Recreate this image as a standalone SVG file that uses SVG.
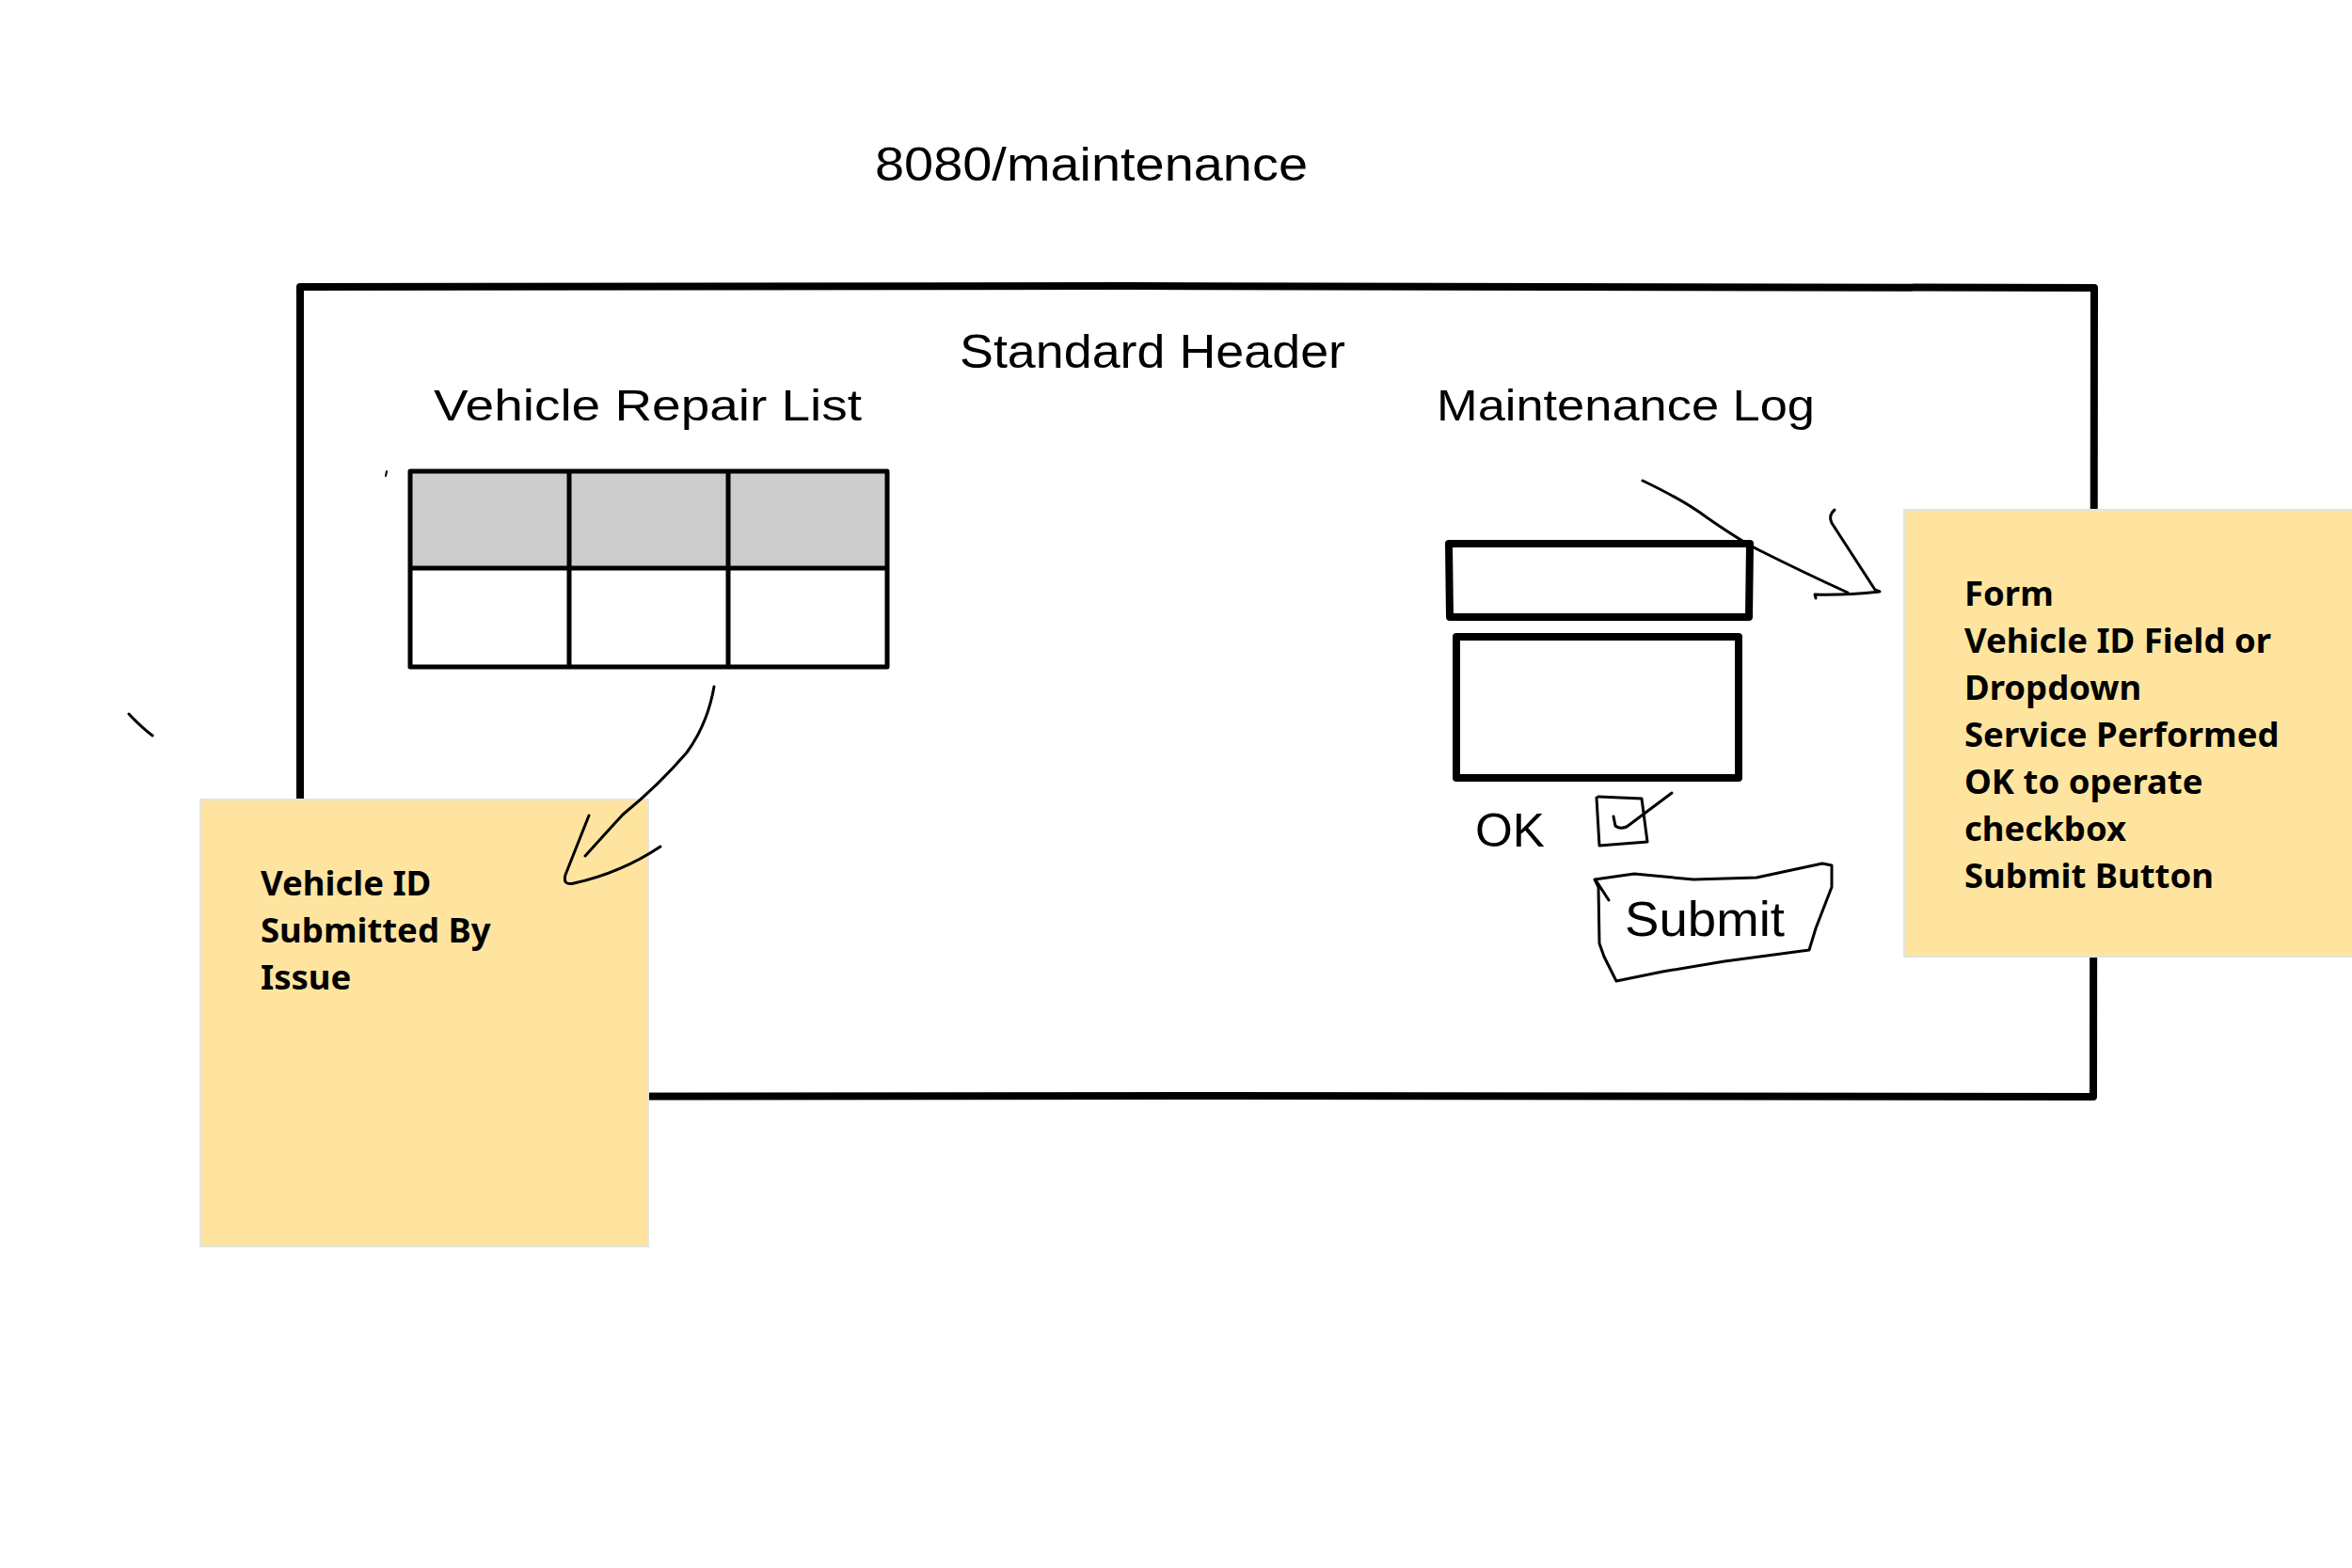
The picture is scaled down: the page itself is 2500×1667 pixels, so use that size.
<svg xmlns="http://www.w3.org/2000/svg" width="2500" height="1667" viewBox="0 0 2500 1667">
<style>
.hand{font-family:"Liberation Sans","DejaVu Sans",sans-serif;fill:#000}
.note{font-family:"Noto Sans","Open Sans",sans-serif;font-weight:700;font-size:36.5px;fill:#000}
.ink{fill:none;stroke:#000;stroke-linecap:round;stroke-linejoin:round}
.sticky{fill:#fee49f;stroke:#e3e3e3;stroke-width:2}
</style>
<rect width="2500" height="1667" fill="#fff"/>
<g id="title"><text class="hand" x="930" y="192" font-size="50" textLength="460" lengthAdjust="spacingAndGlyphs">8080/maintenance</text></g>
<g id="frame">
<path class="ink" stroke-width="8" d="M319,305 L1200,304 L2226,306 L2225,1166 L1300,1165 L319,1166 Z"/>
</g>
<g id="header"><text class="hand" x="1020" y="391" font-size="50" textLength="410" lengthAdjust="spacingAndGlyphs">Standard Header</text></g>
<g id="repair-title"><text class="hand" x="461" y="447" font-size="46" textLength="455" lengthAdjust="spacingAndGlyphs">Vehicle Repair List</text></g>
<g id="log-title"><text class="hand" x="1527" y="447" font-size="46" textLength="402" lengthAdjust="spacingAndGlyphs">Maintenance Log</text></g>
<g id="table">
<rect x="436" y="501" width="507" height="103" fill="#cccccc"/>
<path class="ink" stroke-width="5" d="M436,501 L943,501 L943,709 L436,709 Z M436,604 L943,604 M605,501 L605,709 M774,501 L774,709"/>
</g>
<g id="tick"><path class="ink" stroke-width="2" d="M411,501 L410,506"/></g>
<g id="field1"><path class="ink" stroke-width="8" d="M1540,578 L1860,578 L1859,656 L1541,656 Z"/></g>
<g id="field2"><path class="ink" stroke-width="8" d="M1548,677 L1848,677 L1848,827 L1548,827 Z"/></g>
<g id="ok"><text class="hand" x="1568" y="900" font-size="50" font-weight="200" textLength="74" lengthAdjust="spacingAndGlyphs">OK</text></g>
<g id="checkbox">
<path class="ink" stroke-width="3" d="M1699,847 L1745,849 L1751,895 L1700,899 L1697,848 M1715,868 L1717,878 Q1722,882 1729,879 L1777,843"/>
</g>
<g id="submit">
<path class="ink" stroke-width="3" d="M1695,935 L1737,929 L1800,935 L1867,933 L1937,918 L1947,920 L1947,943 L1930,987 L1923,1010 L1833,1022 L1767,1033 L1718,1043 L1705,1017 L1700,1003 L1699,943 Z M1697,937 L1710,957"/>
<text class="hand" x="1727" y="995" font-size="52" textLength="170" lengthAdjust="spacingAndGlyphs">Submit</text>
</g>
<g id="mark"><path class="ink" stroke-width="3" d="M137,759 Q150,773 162,782"/></g>
<g id="note-left">
<rect class="sticky" x="213" y="850" width="476" height="475"/>
<text class="note" x="277" y="952">Vehicle ID</text>
<text class="note" x="277" y="1002">Submitted By</text>
<text class="note" x="277" y="1052">Issue</text>
</g>
<g id="note-right">
<rect class="sticky" x="2024" y="542" width="478" height="475"/>
<text class="note" x="2088" y="644">Form</text>
<text class="note" x="2088" y="694">Vehicle ID Field or</text>
<text class="note" x="2088" y="744">Dropdown</text>
<text class="note" x="2088" y="794">Service Performed</text>
<text class="note" x="2088" y="844">OK to operate</text>
<text class="note" x="2088" y="894">checkbox</text>
<text class="note" x="2088" y="944">Submit Button</text>
</g>
<g id="connectors">
<path class="ink" stroke-width="3" d="M759,730 Q752,770 730,800 Q700,835 662,866 Q640,890 622,910"/>
<path class="ink" stroke-width="3" d="M626,867 L601,930 Q598,942 610,939 Q660,928 702,900"/>
<path class="ink" stroke-width="3" d="M1746,511 Q1790,532 1814,550 Q1850,575 1870,585 Q1920,610 1964,630"/>
<path class="ink" stroke-width="3" d="M1950,542 Q1943,548 1947,556 L1993,627 L1998,629 Q1960,633 1929,632 L1930,636"/>
</g>
</svg>
